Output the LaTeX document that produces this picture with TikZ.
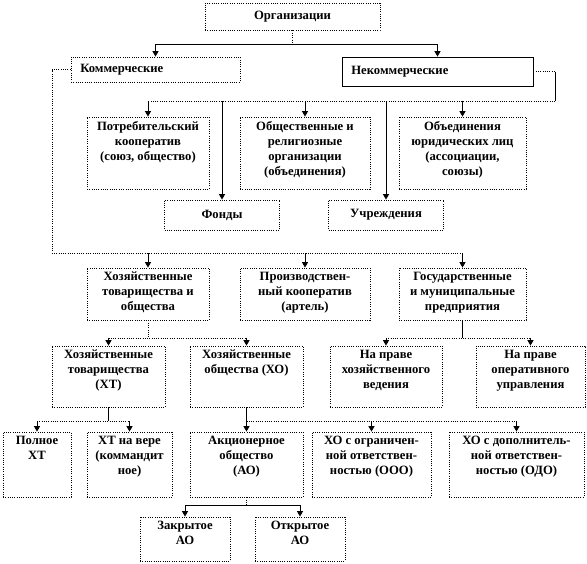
\documentclass[tikz,border=0pt]{standalone}
\usepackage{fontspec}
\setmainfont{Liberation Serif}
\usetikzlibrary{arrows.meta}

% text set at the top of a box of fixed size
\newcommand{\boxtext}[3]{\parbox[c][#2][t]{#1}{\centering\vspace{3pt}#3}}
% text set in the middle of a box of fixed size
\newcommand{\boxmid}[3]{\parbox[c][#2][c]{#1}{\centering #3}}

\tikzset{
  box/.style={draw, densely dotted, line width=0.7pt, inner sep=0pt, fill=white,
    font=\bfseries\fontsize{9.5}{11.25}\selectfont},
  sline/.style={line width=0.6pt},
  dline/.style={line width=0.7pt, densely dotted},
  arr/.style={line width=0.6pt, -{Triangle[width=4.5pt,length=4pt]}}
}

\begin{document}
\begin{tikzpicture}[x=0.75pt, y=-0.75pt]
    \useasboundingbox (0,0) rectangle (587,564);

    % Top level
    \node[box] (org) at (292.5,16.5) {\boxmid{131.25pt}{20.25pt}{Организации}};
    \node[box] (com) at (155.5,69.5) {\boxmid{126.75pt}{18.75pt}{\raggedright\hspace*{7pt}Коммерческие}};
    \node[box, solid] (noncom) at (437.5,71.5) {\boxmid{143.25pt}{21.75pt}{\raggedright\hspace*{7pt}Некоммерческие}};

    % Non-commercial
    \node[box] (potreb) at (148,153) {\boxtext{91.5pt}{54pt}{Потребительский\\ кооператив\\ (союз, общество)}};
    \node[box] (obsh) at (305,153) {\boxtext{97.5pt}{54pt}{Общественные и\\ религиозные\\ организации\\ (объединения)}};
    \node[box] (obyed) at (462.5,153) {\boxtext{95.25pt}{54pt}{Объединения\\ юридических лиц\\ (ассоциации,\\ союзы)}};
    \node[box] (fondy) at (222,215) {\boxmid{86.25pt}{22.5pt}{Фонды}};
    \node[box] (uchr) at (386,215) {\boxmid{86.25pt}{22.5pt}{Учреждения}};

    % Commercial
    \node[box] (hoz) at (148,294) {\boxtext{91.5pt}{39pt}{Хозяйственные\\ товарищества и\\ общества}};
    \node[box] (proizv) at (305,294) {\boxtext{97.5pt}{39pt}{Производствен-\\ ный кооператив\\ (артель)}};
    \node[box] (gos) at (462.5,294) {\boxtext{95.25pt}{39pt}{Государственные\\ и муниципальные\\ предприятия}};

    \node[box] (xt) at (108.5,376.5) {\boxtext{84.75pt}{45.75pt}{Хозяйственные\\ товарищества\\ (ХТ)}};
    \node[box] (xo) at (246.5,376.5) {\boxtext{84.75pt}{45.75pt}{Хозяйственные\\ общества (ХО)}};
    \node[box] (hozved) at (386,376.5) {\boxtext{84pt}{45.75pt}{На праве\\ хозяйственного\\ ведения}};
    \node[box] (oper) at (530.5,376.5) {\boxtext{81.75pt}{45.75pt}{На праве\\ оперативного\\ управления}};

    \node[box] (poln) at (37,464.5) {\boxtext{51pt}{48.75pt}{Полное\\ ХТ}};
    \node[box] (vera) at (129.5,464.5) {\boxtext{63.75pt}{48.75pt}{ХТ на вере\\ (коммандит\\ ное)}};
    \node[box] (ao) at (246.5,464.5) {\boxtext{84.75pt}{48.75pt}{Акционерное\\ общество\\ (АО)}};
    \node[box] (ooo) at (371.5,464.5) {\boxtext{89.25pt}{48.75pt}{ХО с ограничен-\\ ной ответствен-\\ ностью (ООО)}};
    \node[box] (odo) at (516.5,464.5) {\boxtext{101.25pt}{48.75pt}{ХО с дополнитель-\\ ной ответствен-\\ ностью (ОДО)}};

    \node[box] (zao) at (185,539) {\boxtext{67.5pt}{33pt}{Закрытое\\ АО}};
    \node[box] (oao) at (300,539) {\boxtext{67.5pt}{33pt}{Открытое\\ АО}};

    % Fork lines
    \coordinate (f1) at (0,44);
    \coordinate (nr) at (555,101);
    \coordinate (cl) at (52,253);
    \coordinate (f3) at (0,338);
    \coordinate (f4) at (0,421);
    \coordinate (f5) at (0,505);

    % Organizations -> commercial / non-commercial
    \draw[dline] (org.south) -- (org.south |- f1);
    \draw[sline] (com.north |- f1) -- (noncom.north |- f1);
    \draw[arr] (com.north |- f1) -- (com.north);
    \draw[arr] (noncom.north |- f1) -- (noncom.north);

    % Non-commercial branch
    \draw[dline] (noncom.east) -- (noncom.east -| nr);
    \draw[sline] (noncom.east -| nr) -- (nr);
    \draw[dline] (nr) -- (potreb.north |- nr);
    \draw[arr] (potreb.north |- nr) -- (potreb.north);
    \draw[arr] (obsh.north |- nr) -- (obsh.north);
    \draw[arr] (obyed.north |- nr) -- (obyed.north);
    \draw[arr] (fondy.north |- nr) -- (fondy.north);
    \draw[arr] (uchr.north |- nr) -- (uchr.north);

    % Commercial branch
    \draw[dline] (com.west) -| (cl) -- (gos.north |- cl);
    \draw[arr] (hoz.north |- cl) -- (hoz.north);
    \draw[arr] (proizv.north |- cl) -- (proizv.north);
    \draw[arr] (gos.north |- cl) -- (gos.north);

    \draw[dline] (hoz.south) -- (hoz.south |- f3);
    \draw[dline] (xt.north |- f3) -- (xo.north |- f3);
    \draw[arr] (xt.north |- f3) -- (xt.north);
    \draw[arr] (xo.north |- f3) -- (xo.north);

    \draw[sline] (gos.south) -- (gos.south |- f3);
    \draw[dline] (hozved.north |- f3) -- (oper.north |- f3);
    \draw[arr] (hozved.north |- f3) -- (hozved.north);
    \draw[arr] (oper.north |- f3) -- (oper.north);

    \draw[sline] (xt.south) -- (xt.south |- f4);
    \draw[dline] (poln.north |- f4) -- (vera.north |- f4);
    \draw[arr] (poln.north |- f4) -- (poln.north);
    \draw[arr] (vera.north |- f4) -- (vera.north);

    \draw[sline] (xo.south) -- (xo.south |- f4);
    \draw[dline] (ao.north |- f4) -- (odo.north |- f4);
    \draw[arr] (ao.north |- f4) -- (ao.north);
    \draw[arr] (ooo.north |- f4) -- (ooo.north);
    \draw[arr] (odo.north |- f4) -- (odo.north);

    \draw[dline] (ao.south) -- (ao.south |- f5);
    \draw[sline] (zao.north |- f5) -- (oao.north |- f5);
    \draw[arr] (zao.north |- f5) -- (zao.north);
    \draw[arr] (oao.north |- f5) -- (oao.north);
\end{tikzpicture}
\end{document}
